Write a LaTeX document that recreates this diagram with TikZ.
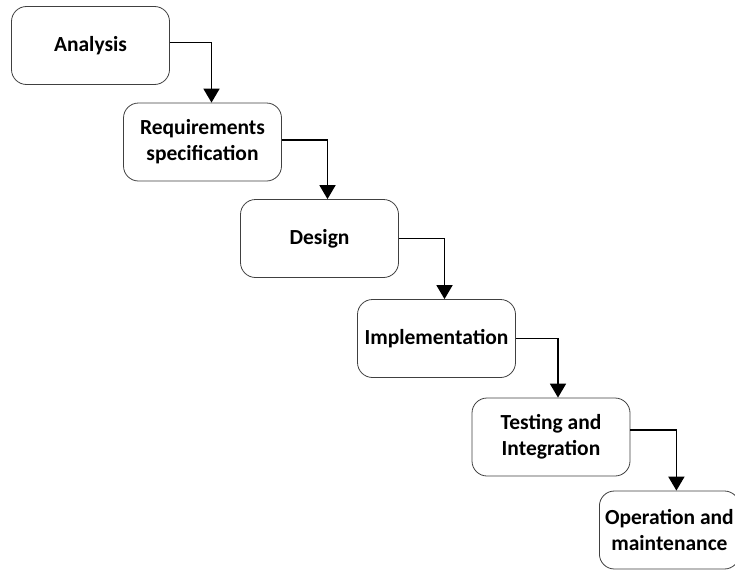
\documentclass[tikz,border=0pt]{standalone}
\usepackage{fontspec}
\setmainfont{Carlito}
\usepackage{tikz}
\usetikzlibrary{positioning, arrows.meta}
\tikzset{
  phase/.style={draw=black!75, line width=0.8pt, rounded corners=15pt, fill=white,
                font=\fontsize{21.5}{26}\selectfont\bfseries, align=center,
                minimum width=158pt, minimum height=78pt, inner sep=2pt},
  flow/.style={-{Triangle[length=14pt, width=16pt]}, line width=1.8pt, black}
}
\begin{document}
\begin{tikzpicture}[x=1pt, y=-1pt]
  \useasboundingbox (0,0) rectangle (735,570);
  % phases
  \node[phase] (ana) at (90.5,45.5)  {Analysis};
  \node[phase] (req) at (202.5,142)  {Requirements\\specification};
  \node[phase] (des) at (319.5,238.5) {Design};
  \node[phase] (imp) at (436.5,338.5) {Implementation};
  \node[phase] (tes) at (551,437)    {Testing and\\Integration};
  \node[phase, minimum width=140pt, anchor=west] (ope) at (599,530) {Operation and\\maintenance};
  % flows
  \draw[flow] ([yshift=3pt]ana.east) -| ([xshift=9pt]req.north);
  \draw[flow] ([yshift=2pt]req.east) -| ([xshift=8pt]des.north);
  \draw[flow] (des.east) -| ([xshift=8pt]imp.north);
  \draw[flow] (imp.east) -| ([xshift=7pt]tes.north);
  \draw[flow] ([yshift=7pt]tes.east) -| ([xshift=7pt]ope.north);
\end{tikzpicture}
\end{document}
